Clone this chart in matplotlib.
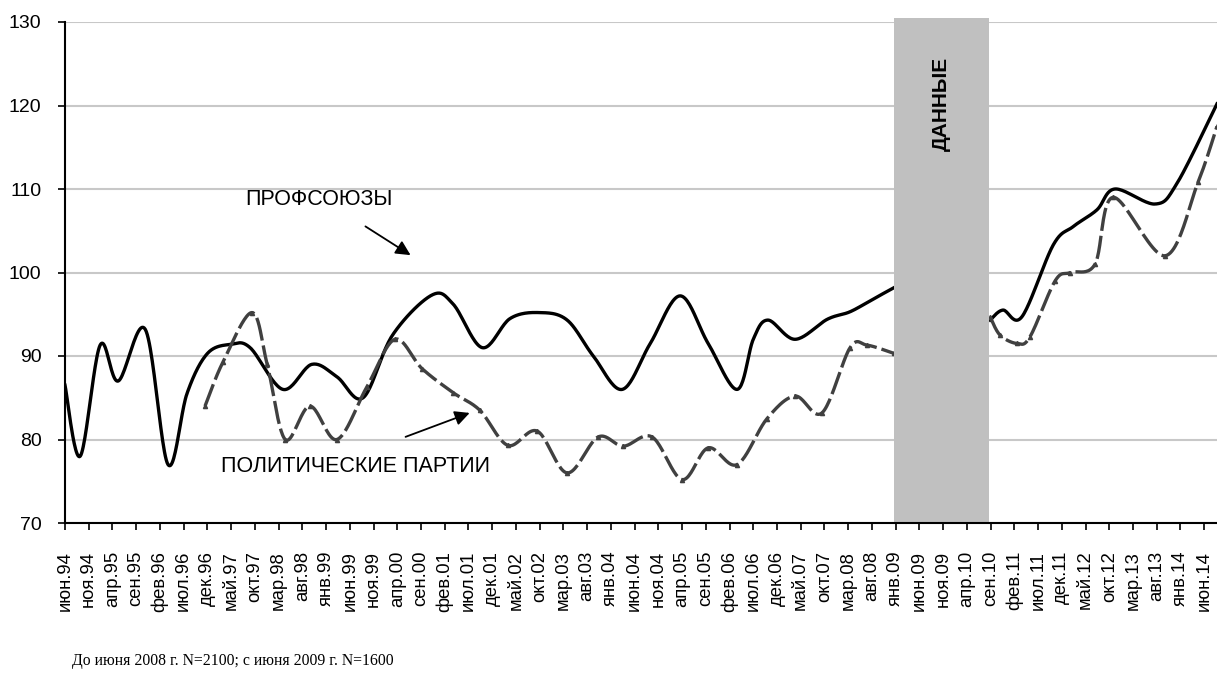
import numpy as np
import matplotlib.pyplot as plt

plt.rcParams['font.family'] = ['Liberation Sans', 'DejaVu Sans']

# x axis: months counted from June 1994
tick_labels = ['июн.94', 'ноя.94', 'апр.95', 'сен.95', 'фев.96', 'июл.96', 'дек.96',
               'май.97', 'окт.97', 'мар.98', 'авг.98', 'янв.99', 'июн.99', 'ноя.99',
               'апр.00', 'сен.00', 'фев.01', 'июл.01', 'дек.01', 'май.02', 'окт.02',
               'мар.03', 'авг.03', 'янв.04', 'июн.04', 'ноя.04', 'апр.05', 'сен.05',
               'фев.06', 'июл.06', 'дек.06', 'май.07', 'окт.07', 'мар.08', 'авг.08',
               'янв.09', 'июн.09', 'ноя.09', 'апр.10', 'сен.10', 'фев.11', 'июл.11',
               'дек.11', 'май.12', 'окт.12', 'мар.13', 'авг.13', 'янв.14', 'июн.14']
tick_months = [5 * i for i in range(len(tick_labels))]

union_months = [0, 3.2, 7.4, 11.2, 16.9, 21.7, 25.7, 30, 35, 39, 45.9, 52, 57.3, 62.8,
                69, 77.3, 81.8, 87.9, 93.8, 100, 105.8, 111.3, 117.4, 123.3, 129.6,
                135.5, 141.6, 145, 148.1, 153.8, 160.6, 165.4, 170.2, 174.7,
                194.9, 197.6, 201.6, 208.2, 212.4, 217.4, 221.2, 229.7, 234.3, 242.7]
union_values = [86.5, 78, 91.3, 87, 93.2, 77, 85.5, 90.3, 91.4, 91.0, 86, 89, 87.5, 85,
                92.5, 97.3, 96.2, 91, 94.5, 95.2, 94.3, 90, 86, 91.5, 97.2,
                91.5, 86, 92, 94.3, 92, 94.4, 95.3, 96.8, 98.2,
                94.3, 95.5, 94.7, 103.3, 105.5, 107.5, 110, 108.2, 110.7, 120.2]

party_months = [29.5, 33.3, 39.4, 42.6, 46.4, 51.6, 57.3, 63.6, 69.5, 75.2, 81.8, 87.4,
                93.3, 99.5, 105.8, 112.3, 117.6, 123.7, 130, 135.5, 141.6, 147.9,
                153.8, 159.5, 165.4, 169, 174.7,
                194.9, 197, 200.6, 203.3, 208.6, 211.8, 217, 220.8, 231.8, 238.7, 242.7]
party_values = [84, 89.3, 95.2, 89, 80, 84, 80, 86.3, 92, 88.5, 85.6, 83.5,
                79.3, 81, 76, 80.3, 79.2, 80.3, 75.2, 79, 77, 82.5,
                85.2, 83.2, 91, 91.3, 90.3,
                94.7, 92.5, 91.5, 92.3, 99, 100, 101, 109, 102, 110.8, 117.5]

gap_start, gap_end = 174.7, 194.7


def smooth(xs, ys, n=25):
    # Excel-like smoothed line: bezier segments with catmull-rom tangents
    p = np.column_stack([xs, ys]).astype(float)
    p = np.vstack([p[0], p, p[-1]])
    t = np.linspace(0, 1, n)[:, None]
    out = []
    for i in range(1, len(p) - 2):
        p0, p1, p2, p3 = p[i - 1], p[i], p[i + 1], p[i + 2]
        c1 = p1 + (p2 - p0) / 6
        c2 = p2 - (p3 - p1) / 6
        seg = (1 - t) ** 3 * p1 + 3 * (1 - t) ** 2 * t * c1 + 3 * (1 - t) * t ** 2 * c2 + t ** 3 * p2
        out.append(seg if i == 1 else seg[1:])
    s = np.vstack(out)
    return s[:, 0], s[:, 1]


def draw(ax, xs, ys, **kw):
    # no data in the gap: smooth each side on its own
    xs, ys = np.array(xs), np.array(ys)
    for m in (xs <= gap_start + 0.01, xs >= gap_end - 0.01):
        sx, sy = smooth(xs[m], ys[m])
        ax.plot(sx, sy, **kw)


fig = plt.figure(figsize=(12.17, 6.75), dpi=100)
ax = fig.add_axes([65 / 1217, 1 - 523 / 675, 1 - 65 / 1217, 501 / 675])

draw(ax, union_months, union_values, color='black', lw=2.4, zorder=2)
draw(ax, party_months, party_values, color='#404040', lw=2.4,
     linestyle=(0, (7, 1.5)), zorder=2.5)
ax.plot(party_months, party_values, linestyle='none', marker='^', ms=3,
        color='#404040', zorder=2.6)

ax.axvspan(gap_start, gap_end, ymin=0, ymax=1.008, color='#c0c0c0', zorder=3,
           clip_on=False, lw=0)
ax.text((gap_start + gap_end) / 2, 120.2, 'ДАННЫЕ', rotation=90, ha='center',
        va='center', fontsize=15, fontweight='bold', zorder=4)

ax.set_xlim(0, 242.7)
ax.set_ylim(70, 130)
ax.set_yticks(range(70, 131, 10))
ax.set_xticks(tick_months)
ax.set_xticklabels(tick_labels, rotation=90)
ax.tick_params(axis='y', labelsize=14, length=5, width=1.2, pad=12)
ax.tick_params(axis='x', labelsize=13.3, length=5, width=1.2, pad=15)

ax.yaxis.grid(True, color='#c8c8c8', lw=1.5)
ax.set_axisbelow(True)
for s in ['top', 'right']:
    ax.spines[s].set_visible(False)
for s in ['left', 'bottom']:
    ax.spines[s].set_linewidth(1.5)
    ax.spines[s].set_zorder(5)

ax.text(53.5, 108.7, 'ПРОФСОЮЗЫ', ha='center', va='center', fontsize=15.5)
ax.annotate('', xy=(73.3, 101.9), xytext=(62.8, 105.7),
            arrowprops=dict(arrowstyle='-|>', color='black', lw=1.3, mutation_scale=22))
ax.text(61.1, 76.8, 'ПОЛИТИЧЕСКИЕ ПАРТИИ', ha='center', va='center', fontsize=15.5)
ax.annotate('', xy=(85.8, 83.3), xytext=(71.2, 80.2),
            arrowprops=dict(arrowstyle='-|>', color='black', lw=1.3, mutation_scale=22))

fig.text(72 / 1217, 1 - 661 / 675, 'До июня 2008 г. N=2100; с июня 2009 г. N=1600',
         va='center', fontsize=11.3, family=['Liberation Serif', 'DejaVu Serif'])

fig.savefig('out.png', dpi=100)
